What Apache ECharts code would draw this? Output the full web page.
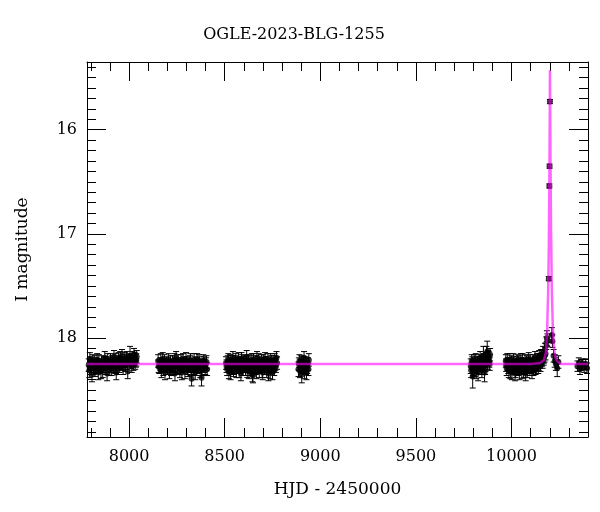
<!DOCTYPE html>
<html>
<head>
<meta charset="utf-8">
<script src="https://cdn.jsdelivr.net/npm/echarts@6/dist/echarts.min.js"></script>
<style>
  html, body { margin: 0; padding: 0; background: #fff; }
  #chart { width: 600px; height: 512px; }
</style>
</head>
<body>
<div id="chart"></div>
<script>
// photometry, one array per season: [HJD-2450000, I mag, error]
const season2017 = [
  [7792,18.31,0.07],[7797,18.24,0.06],[7801,18.29,0.06],[7806,18.35,0.07],[7811,18.22,0.06],
  [7817,18.27,0.06],[7822,18.30,0.07],[7828,18.25,0.06],[7833,18.21,0.06],[7839,18.33,0.07],
  [7845,18.26,0.06],[7850,18.28,0.06],[7856,18.23,0.06],[7862,18.31,0.07],[7868,18.25,0.06],
  [7873,18.19,0.06],[7879,18.29,0.06],[7885,18.34,0.07],[7891,18.24,0.06],[7897,18.27,0.06],
  [7903,18.21,0.06],[7909,18.30,0.06],[7915,18.25,0.06],[7921,18.18,0.06],[7927,18.28,0.06],
  [7933,18.33,0.07],[7939,18.23,0.06],[7945,18.20,0.06],[7951,18.27,0.06],[7957,18.24,0.06],
  [7963,18.17,0.06],[7969,18.29,0.06],[7975,18.22,0.06],[7981,18.26,0.06],[7987,18.19,0.06],
  [7993,18.32,0.07],[7999,18.21,0.06],[8005,18.17,0.09],[8011,18.23,0.06],[8017,18.19,0.06],
  [8023,18.25,0.06],[8029,18.20,0.06],[8035,18.22,0.06],[8040,18.18,0.06],
  [7789,18.26,0.06],[7795,18.20,0.06],[7804,18.25,0.06],[7814,18.29,0.06],[7820,18.23,0.06],
  [7831,18.28,0.06],[7842,18.22,0.06],[7853,18.32,0.07],[7865,18.27,0.06],[7876,18.24,0.06],
  [7888,18.21,0.06],[7900,18.30,0.06],[7912,18.23,0.06],[7918,18.27,0.06],[7930,18.21,0.06],
  [7942,18.29,0.06],[7954,18.19,0.06],[7966,18.25,0.06],[7978,18.20,0.06],[7990,18.24,0.06],
  [8002,18.22,0.06],[8014,18.27,0.06],[8026,18.16,0.06],[8032,18.24,0.06],[8038,18.21,0.06]
];
const season2018 = [
  [8152,18.22,0.06],[8158,18.28,0.06],[8163,18.25,0.06],[8169,18.31,0.07],[8176,18.20,0.06],
  [8182,18.26,0.06],[8188,18.33,0.07],[8195,18.24,0.06],[8201,18.29,0.06],[8207,18.21,0.06],
  [8214,18.27,0.06],[8220,18.30,0.06],[8227,18.23,0.06],[8233,18.26,0.06],[8240,18.34,0.07],
  [8246,18.19,0.06],[8253,18.28,0.06],[8259,18.25,0.06],[8266,18.31,0.07],[8272,18.22,0.06],
  [8279,18.27,0.06],[8285,18.24,0.06],[8292,18.32,0.07],[8298,18.20,0.06],[8305,18.29,0.06],
  [8311,18.26,0.06],[8318,18.23,0.06],[8324,18.30,0.06],[8327,18.39,0.07],[8333,18.27,0.06],
  [8340,18.21,0.06],[8346,18.33,0.07],[8353,18.25,0.06],[8359,18.28,0.06],[8366,18.22,0.06],
  [8372,18.31,0.07],[8379,18.38,0.08],[8385,18.26,0.06],[8392,18.24,0.06],[8398,18.29,0.06],
  [8405,18.23,0.06],
  [8155,18.27,0.06],[8166,18.21,0.06],[8172,18.26,0.06],[8179,18.30,0.06],[8185,18.22,0.06],
  [8198,18.27,0.06],[8204,18.25,0.06],[8211,18.32,0.07],[8217,18.23,0.06],[8230,18.29,0.06],
  [8237,18.21,0.06],[8243,18.27,0.06],[8256,18.22,0.06],[8262,18.29,0.06],[8269,18.25,0.06],
  [8276,18.33,0.07],[8282,18.21,0.06],[8289,18.26,0.06],[8302,18.24,0.06],[8308,18.31,0.06],
  [8315,18.27,0.06],[8321,18.21,0.06],[8336,18.29,0.06],[8343,18.24,0.06],[8350,18.30,0.06],
  [8356,18.21,0.06],[8363,18.27,0.06],[8369,18.24,0.06],[8382,18.30,0.06],[8388,18.22,0.06],
  [8395,18.27,0.06],[8402,18.25,0.06],[8408,18.30,0.06]
];
const season2019 = [
  [8507,18.24,0.06],[8513,18.30,0.06],[8519,18.21,0.06],[8525,18.27,0.06],[8531,18.33,0.07],
  [8537,18.25,0.06],[8543,18.19,0.06],[8549,18.29,0.06],[8555,18.23,0.06],[8561,18.31,0.07],
  [8567,18.26,0.06],[8573,18.20,0.06],[8579,18.28,0.06],[8585,18.34,0.07],[8591,18.22,0.06],
  [8597,18.27,0.06],[8603,18.25,0.06],[8609,18.30,0.06],[8615,18.18,0.06],[8621,18.26,0.06],
  [8627,18.32,0.07],[8633,18.23,0.06],[8639,18.28,0.06],[8645,18.35,0.07],[8651,18.21,0.06],
  [8657,18.26,0.06],[8663,18.29,0.06],[8669,18.19,0.06],[8675,18.24,0.06],[8681,18.31,0.07],
  [8687,18.27,0.06],[8693,18.22,0.06],[8699,18.33,0.07],[8705,18.25,0.06],[8711,18.20,0.06],
  [8717,18.29,0.06],[8723,18.24,0.06],[8729,18.34,0.07],[8735,18.26,0.06],[8741,18.21,0.06],
  [8747,18.28,0.06],[8753,18.23,0.06],[8759,18.30,0.06],[8765,18.25,0.06],[8771,18.19,0.06],
  [8510,18.27,0.06],[8516,18.23,0.06],[8522,18.32,0.07],[8528,18.22,0.06],[8534,18.28,0.06],
  [8540,18.23,0.06],[8546,18.31,0.06],[8552,18.26,0.06],[8558,18.21,0.06],[8564,18.28,0.06],
  [8570,18.24,0.06],[8576,18.31,0.07],[8582,18.25,0.06],[8588,18.20,0.06],[8594,18.30,0.06],
  [8600,18.23,0.06],[8606,18.27,0.06],[8612,18.24,0.06],[8618,18.31,0.07],[8624,18.22,0.06],
  [8630,18.27,0.06],[8636,18.30,0.06],[8642,18.21,0.06],[8648,18.36,0.07],[8654,18.27,0.06],
  [8660,18.23,0.06],[8666,18.32,0.07],[8672,18.26,0.06],[8678,18.21,0.06],[8684,18.28,0.06],
  [8690,18.25,0.06],[8696,18.31,0.07],[8702,18.22,0.06],[8708,18.29,0.06],[8714,18.24,0.06],
  [8720,18.31,0.07],[8726,18.21,0.06],[8732,18.27,0.06],[8738,18.32,0.07],[8744,18.23,0.06],
  [8750,18.33,0.07],[8756,18.26,0.06],[8762,18.21,0.06],[8768,18.27,0.06],[8774,18.24,0.06]
];
const season2020 = [
  [8886,18.30,0.07],[8891,18.22,0.06],[8897,18.27,0.06],[8903,18.35,0.08],[8909,18.24,0.06],
  [8915,18.19,0.06],[8921,18.29,0.06],[8928,18.33,0.07],[8935,18.25,0.06],[8940,18.21,0.06],
  [8888,18.25,0.06],[8894,18.31,0.07],[8900,18.23,0.06],[8906,18.28,0.06],[8912,18.26,0.06],
  [8918,18.32,0.07],[8924,18.24,0.06],[8931,18.28,0.06],[8938,18.30,0.06]
];
const season2022 = [
  [9787,18.27,0.07],[9792,18.22,0.06],[9797,18.37,0.11],[9802,18.25,0.06],[9808,18.30,0.07],
  [9813,18.21,0.06],[9819,18.28,0.06],[9825,18.33,0.08],[9831,18.24,0.06],[9836,18.19,0.06],
  [9842,18.29,0.06],[9848,18.23,0.06],[9853,18.17,0.09],[9859,18.33,0.09],[9864,18.26,0.06],
  [9869,18.15,0.07],[9873,18.13,0.10],[9878,18.18,0.06],[9884,18.22,0.06],[9888,18.16,0.06],
  [9789,18.31,0.07],[9795,18.24,0.06],[9800,18.30,0.06],[9805,18.22,0.06],[9811,18.27,0.06],
  [9816,18.32,0.07],[9822,18.24,0.06],[9828,18.29,0.06],[9834,18.22,0.06],[9839,18.26,0.06],
  [9845,18.31,0.07],[9851,18.25,0.06],[9856,18.21,0.06],[9862,18.29,0.06],[9867,18.20,0.06],
  [9876,18.24,0.06],[9881,18.19,0.06],[9886,18.25,0.06]
];
const season2023 = [
  [9970,18.22,0.06],[9975,18.29,0.07],[9980,18.25,0.06],[9986,18.31,0.07],[9991,18.21,0.06],
  [9997,18.27,0.06],[10002,18.33,0.07],[10008,18.24,0.06],[10013,18.29,0.06],[10019,18.34,0.07],
  [10024,18.26,0.06],[10030,18.22,0.06],[10035,18.30,0.06],[10041,18.33,0.07],[10046,18.25,0.06],
  [10052,18.28,0.06],[10057,18.21,0.06],[10063,18.31,0.07],[10068,18.26,0.06],[10074,18.34,0.07],
  [10079,18.23,0.06],[10085,18.28,0.06],[10090,18.20,0.06],[10096,18.30,0.06],[10101,18.25,0.06],
  [10107,18.32,0.07],[10112,18.22,0.06],[10118,18.27,0.06],[10123,18.19,0.06],[10129,18.25,0.06],
  [10134,18.21,0.06],[10140,18.28,0.06],[10145,18.18,0.06],[10150,18.23,0.06],[10155,18.17,0.06],
  [10160,18.21,0.06],[10165,18.14,0.06],[10170,18.18,0.06],[10175,18.11,0.06],[10178,18.15,0.06],
  [10182,18.05,0.06],[10185,18.00,0.07],[10188,18.02,0.06],
  [10195,17.43,0.02],[10198,16.54,0.02],[10199,16.35,0.02],[10201,15.73,0.02],
  [10211,17.97,0.07],[10214,18.03,0.06],[10220,18.17,0.06],[10226,18.22,0.06],[10232,18.25,0.06],
  [10239,18.29,0.08],[10245,18.23,0.06],
  [9972,18.26,0.06],[9978,18.21,0.06],[9983,18.28,0.06],[9988,18.25,0.06],[9994,18.32,0.07],
  [9999,18.23,0.06],[10005,18.28,0.06],[10010,18.21,0.06],[10016,18.27,0.06],[10021,18.31,0.07],
  [10027,18.24,0.06],[10032,18.29,0.06],[10038,18.23,0.06],[10043,18.28,0.06],[10049,18.21,0.06],
  [10054,18.32,0.07],[10060,18.25,0.06],[10065,18.29,0.06],[10071,18.22,0.06],[10076,18.28,0.06],
  [10082,18.31,0.07],[10087,18.25,0.06],[10093,18.27,0.06],[10098,18.22,0.06],[10104,18.28,0.06],
  [10109,18.26,0.06],[10115,18.30,0.06],[10120,18.24,0.06],[10126,18.29,0.06],[10131,18.26,0.06],
  [10137,18.22,0.06],[10142,18.25,0.06],[10147,18.21,0.06],[10152,18.26,0.06],[10158,18.20,0.06],
  [10163,18.23,0.06],[10168,18.20,0.06],[10173,18.17,0.06]
];
const season2024 = [
  [10345,18.27,0.05],[10352,18.24,0.05],[10358,18.30,0.05],[10365,18.26,0.05],
  [10372,18.25,0.05],[10380,18.28,0.05],[10388,18.25,0.05],[10395,18.29,0.05]
];

// fitted model curve
const modelHjd = [7780, 10100, 10150, 10170, 10180, 10186, 10191, 10195, 10198, 10200, 10201,
  10202, 10204, 10207, 10211, 10216, 10222, 10230, 10242, 10260, 10400];
const modelMag = [18.25, 18.25, 18.24, 18.21, 18.14, 17.95, 17.6, 17.15, 16.5, 15.9, 15.43,
  15.75, 16.35, 17.0, 17.55, 17.9, 18.1, 18.19, 18.23, 18.25, 18.25];

const xMajorTicks = [8000, 8500, 9000, 9500, 10000];
const yMajorTicks = [16, 17, 18];

const X_MIN = 7780, X_MAX = 10400;
const Y_MIN = 15.35, Y_MAX = 18.95;

const xMinorTicks = [];
for (let v = 7800; v <= X_MAX; v += 100) xMinorTicks.push(v);
const yMinorTicks = [];
for (let i = 154; i <= 189; i++) yMinorTicks.push(i / 10);

const points = [].concat(season2017, season2018, season2019, season2020,
  season2022, season2023, season2024);
const model = modelHjd.map((t, i) => [t, modelMag[i]]);

const FONT = "DejaVu Serif";

function xAxisDef(pos, major, withLabel) {
  return {
    type: "value", position: pos, min: X_MIN, max: X_MAX,
    axisLine: { show: major, onZero: false, lineStyle: { color: "#000", width: 1 } },
    axisTick: {
      show: true, inside: true, length: major ? 19 : 9,
      customValues: major ? xMajorTicks : xMinorTicks,
      lineStyle: { color: "#000", width: 1 }
    },
    axisLabel: {
      show: withLabel, customValues: xMajorTicks, margin: 12,
      formatter: v => String(v),
      color: "#000", fontFamily: FONT, fontSize: 16
    },
    splitLine: { show: false },
    name: withLabel ? "HJD - 2450000" : "",
    nameLocation: "middle", nameGap: 44,
    nameTextStyle: { color: "#000", fontFamily: FONT, fontSize: 17 }
  };
}

function yAxisDef(pos, major, withLabel) {
  return {
    type: "value", position: pos, inverse: true, min: Y_MIN, max: Y_MAX,
    axisLine: { show: major, onZero: false, lineStyle: { color: "#000", width: 1 } },
    axisTick: {
      show: true, inside: true, length: major ? 19 : 9,
      customValues: major ? yMajorTicks : yMinorTicks,
      lineStyle: { color: "#000", width: 1 }
    },
    axisLabel: {
      show: withLabel, customValues: yMajorTicks, margin: 10,
      formatter: v => String(v),
      color: "#000", fontFamily: FONT, fontSize: 16
    },
    splitLine: { show: false },
    name: withLabel ? "I magnitude" : "",
    nameLocation: "middle", nameGap: 56, nameRotate: 90,
    nameTextStyle: { color: "#000", fontFamily: FONT, fontSize: 17 }
  };
}

const chart = echarts.init(document.getElementById("chart"));
chart.setOption({
  animation: false,
  backgroundColor: "#fff",
  grid: { left: 87, right: 12, top: 62, bottom: 75, containLabel: false },
  graphic: [{
    type: "text", x: 294, y: 35,
    style: {
      text: "OGLE-2023-BLG-1255", fill: "#000",
      font: "16px '" + FONT + "'", textAlign: "center", textVerticalAlign: "middle"
    }
  }],
  xAxis: [
    xAxisDef("bottom", true, true),
    xAxisDef("bottom", false, false),
    xAxisDef("top", true, false),
    xAxisDef("top", false, false)
  ],
  yAxis: [
    yAxisDef("left", true, true),
    yAxisDef("left", false, false),
    yAxisDef("right", true, false),
    yAxisDef("right", false, false)
  ],
  series: [
    {
      type: "custom",
      data: points,
      encode: { x: 0, y: 1 },
      z: 2,
      renderItem: function (params, api) {
        const t = api.value(0), m = api.value(1), e = api.value(2);
        const top = api.coord([t, m - e]);
        const bot = api.coord([t, m + e]);
        const hw = 3;
        const st = { stroke: "#000", lineWidth: 1 };
        return {
          type: "group",
          children: [
            { type: "line", shape: { x1: top[0], y1: top[1], x2: bot[0], y2: bot[1] }, style: st },
            { type: "line", shape: { x1: top[0] - hw, y1: top[1], x2: top[0] + hw, y2: top[1] }, style: st },
            { type: "line", shape: { x1: bot[0] - hw, y1: bot[1], x2: bot[0] + hw, y2: bot[1] }, style: st }
          ]
        };
      }
    },
    {
      type: "scatter",
      data: points.map(p => [p[0], p[1]]),
      symbol: "circle",
      symbolSize: 6,
      itemStyle: { color: "#000" },
      z: 3
    },
    {
      type: "line",
      data: model,
      showSymbol: false,
      lineStyle: { color: "#ff00ff", width: 2.5, opacity: 0.6 },
      z: 4
    }
  ]
});
</script>
</body>
</html>
